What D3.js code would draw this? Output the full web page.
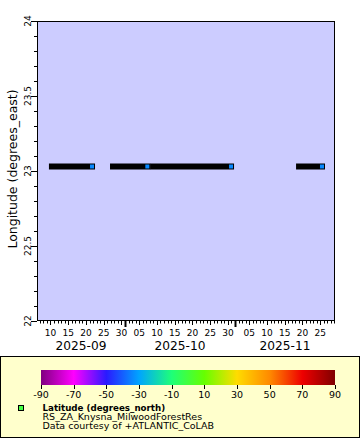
<!DOCTYPE html>
<html><head><meta charset="utf-8">
<script src="https://cdn.jsdelivr.net/npm/d3@7"></script>
<style>body{margin:0;background:#fff}svg{display:block}text{font-family:"DejaVu Sans",sans-serif}</style>
</head><body><svg id="c" width="360" height="440"></svg>
<script>
// ---- data ----
const segStart = ["2025-09-10T10:00Z","2025-09-27T15:00Z","2025-10-08T22:00Z","2025-11-19T01:00Z"];
const segEnd   = ["2025-09-21T17:00Z","2025-10-07T07:00Z","2025-10-30T21:00Z","2025-11-25T12:00Z"];
const segLon   = [23.03, 23.03, 23.03, 23.03];
const segLat   = [-34.03, -34.03, -34.03, -34.03];
const timeDomain = ["2025-09-06T05:00Z","2025-11-29T04:00Z"];
const lonDomain = [22, 24];
const lonTicks = [22, 22.5, 23, 23.5, 24];
const dayLabels = ["2025-09-10","2025-09-15","2025-09-20","2025-09-25","2025-09-30","2025-10-05","2025-10-10","2025-10-15","2025-10-20","2025-10-25","2025-10-30","2025-11-05","2025-11-10","2025-11-15","2025-11-20","2025-11-25"];
const monthLabels = ["2025-09","2025-10","2025-11"];
const cbarTicks = [-90,-70,-50,-30,-10,10,30,50,70,90];
const cbarColors = ["#800080","#ff00ff","#2a1aff","#00a4ff","#1eff78","#66ff00","#ffdc00","#ff8a00","#ee0000","#800000"];
const legendTitle = "Latitude (degrees_north)";
const legendLines = ["RS_ZA_Knysna_MilwoodForestRes","Data courtesy of +ATLANTIC_CoLAB"];

// ---- layout ----
const L=37, R=335, T=21, B=321;
const svg = d3.select("#c");
const P = s => new Date(s);
const x = d3.scaleUtc().domain(timeDomain.map(P)).range([L,R]);
const y = d3.scaleLinear().domain(lonDomain).range([B,T]);
const color = d3.scaleLinear().domain(cbarTicks).range(cbarColors).clamp(true);

svg.append("rect").attr("x",L).attr("y",T).attr("width",R-L).attr("height",B-T).attr("fill","#ccccff");

// y axis ticks
const yMinor = d3.range(22,24.0001,0.1);
svg.append("g").selectAll("line").data(yMinor).join("line")
  .attr("x1",d=>lonTicks.some(t=>Math.abs(t-d)<1e-6)?L-6:L-3).attr("x2",L)
  .attr("y1",d=>Math.round(y(d))+0.5).attr("y2",d=>Math.round(y(d))+0.5)
  .attr("stroke","#000");
svg.append("g").selectAll("text").data(lonTicks).join("text")
  .attr("transform",d=>`translate(31,${y(d)}) rotate(-90)`)
  .attr("text-anchor","middle").attr("font-size",9).text(d=>d);
svg.append("text").attr("transform",`translate(17.3,${(T+B)/2-2}) rotate(-90)`)
  .attr("text-anchor","middle").attr("font-size",12.5).text("Longitude (degrees_east)");

// x axis ticks
const days = d3.utcDay.range(d3.utcDay.ceil(x.domain()[0]), x.domain()[1]);
const labelSet = new Set(dayLabels);
const fmt = d3.utcFormat("%Y-%m-%d");
svg.append("g").selectAll("line").data(days).join("line")
  .attr("x1",d=>Math.round(x(d))+0.5).attr("x2",d=>Math.round(x(d))+0.5)
  .attr("y1",B).attr("y2",d=>d.getUTCDate()===1?B+6:(labelSet.has(fmt(d))?B+4:B+2.5))
  .attr("stroke","#000").attr("stroke-width",d=>d.getUTCDate()===1?2:1);
svg.append("g").selectAll("text").data(dayLabels).join("text")
  .attr("x",d=>x(P(d+"T00:00Z"))).attr("y",336)
  .attr("text-anchor","middle").attr("font-size",9)
  .text(d=>d.slice(8));
svg.append("g").selectAll("text").data(monthLabels).join("text")
  .attr("x",d=>{const s=P(d+"-01T00:00Z"), e=d3.utcMonth.offset(s,1);
      const a=Math.max(x(s),L), b=Math.min(x(e),R); return (a+b)/2;})
  .attr("y",350).attr("text-anchor","middle").attr("font-size",12.2).text(d=>d);

// data segments
const segs = segStart.map((s,i)=>({s:P(s),e:P(segEnd[i]),lon:segLon[i],lat:segLat[i]}));
const g = svg.append("g");
g.selectAll("rect.bar").data(segs).join("rect").attr("class","bar")
  .attr("x",d=>x(d.s)-3).attr("width",d=>x(d.e)-x(d.s)+6)
  .attr("y",d=>y(d.lon)-3).attr("height",6).attr("fill","#000");
g.selectAll("rect.mk").data(segs).join("rect").attr("class","mk")
  .attr("x",d=>x(d.e)-2).attr("width",4)
  .attr("y",d=>y(d.lon)-2).attr("height",4).attr("fill",d=>color(d.lat));

// frame
svg.append("rect").attr("x",L+0.5).attr("y",T+0.5).attr("width",R-L-1).attr("height",B-T-1)
  .attr("fill","none").attr("stroke","#000");

// legend
svg.append("rect").attr("x",0.5).attr("y",356.5).attr("width",359).attr("height",81)
  .attr("fill","#ffffcc").attr("stroke","#000");
const cx = d3.scaleLinear().domain([-90,90]).range([41,335]);
const defs = svg.append("defs");
const grad = defs.append("linearGradient").attr("id","cb");
grad.selectAll("stop").data(cbarTicks).join("stop")
  .attr("offset",d=>(d+90)/180).attr("stop-color",d=>color(d));
svg.append("rect").attr("x",cx(-90)).attr("y",370).attr("width",cx(90)-cx(-90)).attr("height",15).attr("fill","url(#cb)");
svg.append("g").selectAll("line").data(cbarTicks).join("line")
  .attr("x1",d=>Math.round(cx(d))+0.5).attr("x2",d=>Math.round(cx(d))+0.5)
  .attr("y1",385).attr("y2",389).attr("stroke","#000");
svg.append("g").selectAll("text").data(cbarTicks).join("text")
  .attr("x",d=>cx(d)).attr("y",398).attr("text-anchor","middle").attr("font-size",9.5).text(d=>d);
svg.append("rect").attr("x",18.5).attr("y",405.5).attr("width",5).attr("height",5)
  .attr("fill","#44ff44").attr("stroke","#000");
svg.append("text").attr("x",42.5).attr("y",411).attr("font-size",8.7).attr("font-weight","bold").text(legendTitle);
svg.append("g").selectAll("text").data(legendLines).join("text")
  .attr("x",42.5).attr("y",(d,i)=>420+i*8.7).attr("font-size",9.5).text(d=>d);
</script></body></html>
